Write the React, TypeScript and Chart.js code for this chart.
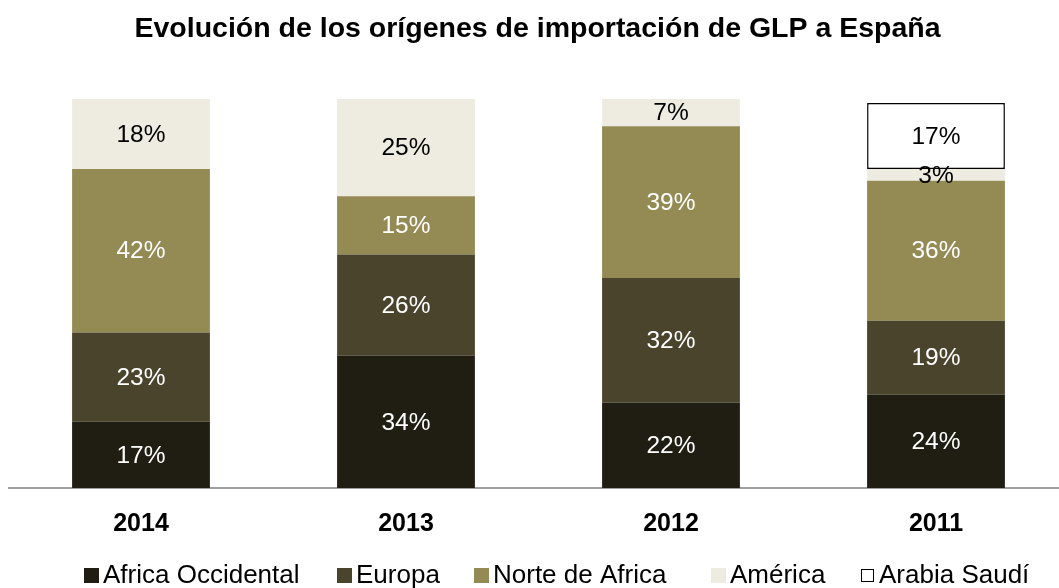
import React, { useEffect, useRef } from "react";
import { Chart, registerables } from "chart.js";

Chart.register(...registerables);

const TITLE = "Evolución de los orígenes de importación de GLP a España";
const categories = ["2014", "2013", "2012", "2011"];
const seriesNames = ["Africa Occidental", "Europa", "Norte de Africa", "América", "Arabia Saudí"];
const africaOccidental = [17, 34, 22, 24];
const europa = [23, 26, 32, 19];
const norteAfrica = [42, 15, 39, 36];
const america = [18, 25, 7, 3];
const arabiaSaudi = [0, 0, 0, 17];

const FONT = "'Liberation Sans', Arial, sans-serif";
const fills = ["#201d12", "#4a442d", "#948a54", "#eeece1", "#ffffff"];
const labelColors = ["#ffffff", "#ffffff", "#ffffff", "#000000", "#000000"];
const legendX = [84, 337, 474, 711, 860];

const overlayPlugin = {
  id: "overlay",
  afterDatasetsDraw(chart: any) {
    const ctx = chart.ctx;
    ctx.save();
    ctx.font = `24.5px ${FONT}`;
    ctx.textAlign = "center";
    ctx.textBaseline = "middle";
    chart.data.datasets.forEach((ds: any, di: number) => {
      const meta = chart.getDatasetMeta(di);
      meta.data.forEach((el: any, i: number) => {
        const v = ds.data[i];
        if (v == null || v === 0) return;
        ctx.fillStyle = labelColors[di];
        ctx.fillText(`${v}%`, el.x, (el.y + el.base) / 2 + 1);
      });
    });
    ctx.restore();
  },
  afterDraw(chart: any) {
    const ctx = chart.ctx;
    ctx.save();
    // title
    ctx.font = `bold 28.5px ${FONT}`;
    ctx.fillStyle = "#000";
    ctx.textAlign = "center";
    ctx.textBaseline = "middle";
    ctx.fillText(TITLE, 537.5, 29);
    // legend
    ctx.textAlign = "left";
    ctx.font = `26px ${FONT}`;
    seriesNames.forEach((name, i) => {
      const x = legendX[i];
      const y = 568;
      if (i === 4) {
        ctx.fillStyle = "#fff";
        ctx.fillRect(x + 1.5, y + 1.5, 12, 12);
        ctx.strokeStyle = "#000";
        ctx.lineWidth = 1;
        ctx.strokeRect(x + 1.5, y + 1.5, 12, 12);
      } else {
        ctx.fillStyle = fills[i];
        ctx.fillRect(x, y, 15, 15);
      }
      ctx.fillStyle = "#000";
      ctx.fillText(name, x + 19, y + 8);
    });
    ctx.restore();
  },
};

export default function App() {
  const ref = useRef<HTMLCanvasElement | null>(null);
  useEffect(() => {
    if (!ref.current) return;
    const seriesData = [africaOccidental, europa, norteAfrica, america, arabiaSaudi];
    const chart = new Chart(ref.current, {
      type: "bar",
      data: {
        labels: categories,
        datasets: seriesData.map((d, i) => ({
          label: seriesNames[i],
          data: d.map((v) => (v === 0 ? null : v)),
          backgroundColor: fills[i],
          borderColor: i === 4 ? "#000" : fills[i],
          borderWidth: i === 4 ? 1.5 : 0,
          borderSkipped: false,
          categoryPercentage: 1,
          barPercentage: 0.52,
        })),
      },
      options: {
        responsive: false,
        animation: false,
        layout: { padding: { top: 99, left: 8.5, right: 11.5, bottom: 36 } },
        plugins: { legend: { display: false }, title: { display: false }, tooltip: { enabled: false } },
        scales: {
          x: {
            stacked: true,
            grid: { display: false },
            border: { display: true, color: "#a0a0a0", width: 2 },
            ticks: { color: "#000", font: { family: FONT, size: 25, weight: "bold" }, padding: 13 },
          },
          y: {
            stacked: true,
            display: false,
            min: 0,
            max: 100,
          },
        },
      },
      plugins: [overlayPlugin],
    });
    return () => chart.destroy();
  }, []);
  return (
    <div style={{ position: "fixed", left: 0, top: 0, width: 1059, height: 588, overflow: "hidden", background: "#fff" }}>
      <canvas ref={ref} width={1080} height={588} style={{ display: "block" }} />
    </div>
  );
}
